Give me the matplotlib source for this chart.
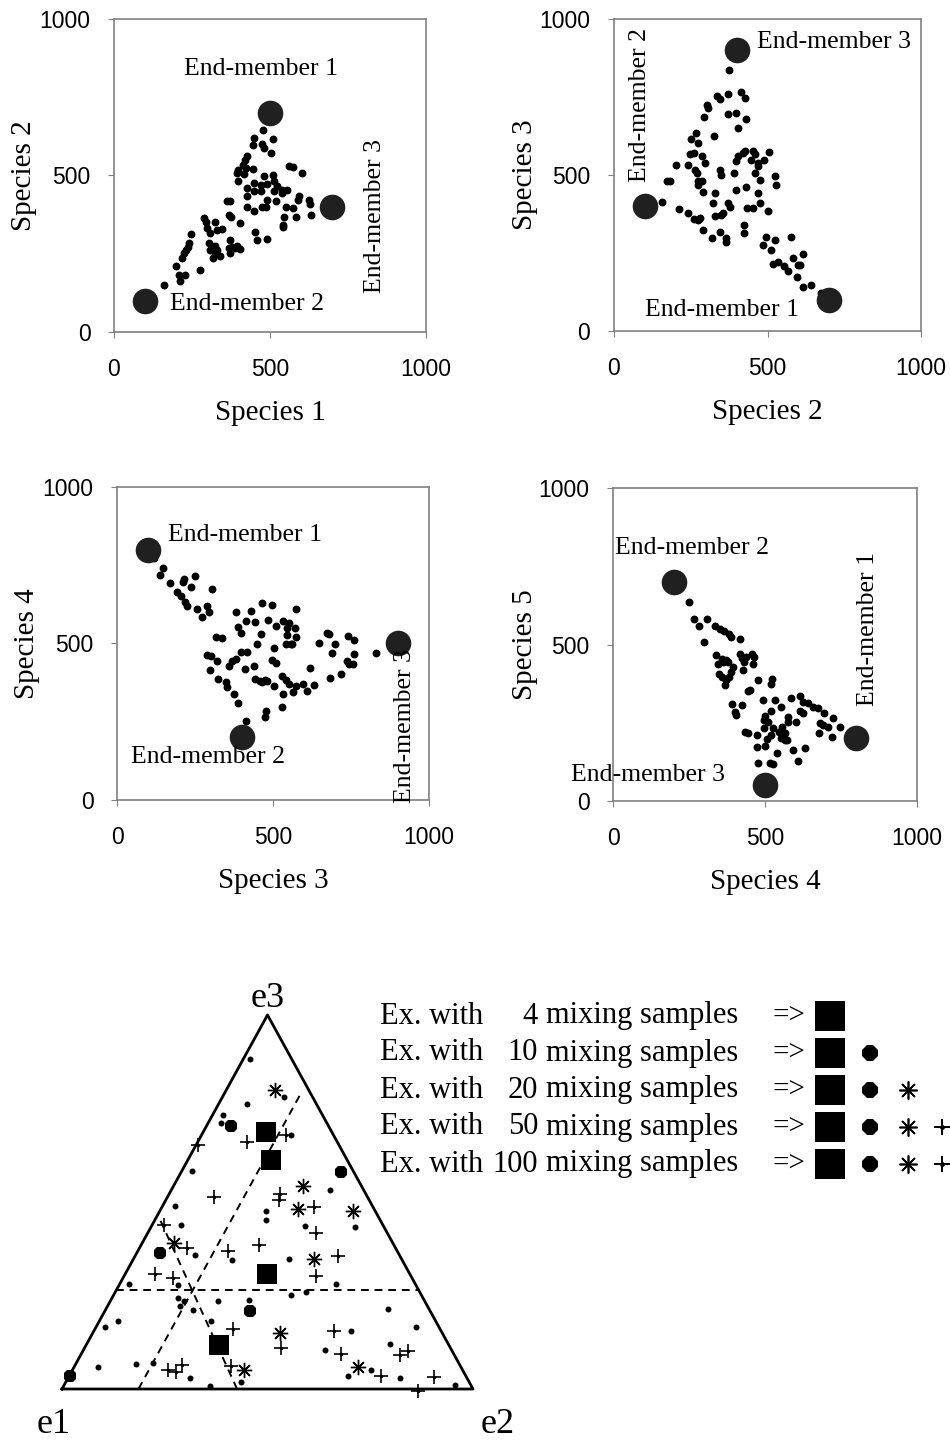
import matplotlib
matplotlib.use("Agg")
import matplotlib.pyplot as plt
import numpy as np

SERIF = "Liberation Serif"
SANS = "Liberation Sans"

# ---- panel 1: species 1 vs species 2 ----
p1_x = [477, 448, 511, 444, 473, 480, 504, 426, 420, 413, 398, 423, 445, 394, 418, 398, 482, 510,
        561, 575, 604, 448, 470, 491, 512, 523, 539, 555, 427, 448, 470, 512, 518, 539, 491, 427,
        593, 591, 625, 628, 425, 448, 475, 488, 550, 575, 545, 582, 630, 362, 373, 368, 375, 405,
        542, 542, 287, 296, 325, 298, 330, 346, 309, 453, 459, 491, 247, 242, 236, 232, 223, 218,
        199, 209, 228, 277, 212, 159, 303, 314, 325, 307, 319, 330, 317, 341, 371, 378, 389, 405,
        368, 373, 394, 325]
p1_y = [644, 621, 616, 596, 601, 587, 573, 563, 550, 534, 518, 523, 520, 508, 505, 481, 499, 500,
        529, 526, 508, 476, 470, 472, 481, 465, 454, 454, 460, 449, 449, 449, 417, 444, 422, 433,
        433, 422, 422, 410, 399, 388, 399, 399, 399, 396, 369, 369, 375, 420, 420, 375, 369, 348,
        343, 334, 364, 353, 350, 332, 327, 329, 316, 321, 295, 297, 313, 284, 271, 261, 252, 236,
        210, 183, 181, 197, 162, 151, 284, 271, 276, 261, 268, 263, 238, 244, 295, 273, 268, 265,
        268, 252, 276, 252]
p1_em_x = [500, 100, 700]
p1_em_y = [700, 100, 400]

# ---- panel 2: species 2 vs species 3 ----
p2_x = [375, 337, 370, 415, 345, 426, 302, 305, 294, 372, 399, 431, 404, 325, 266, 251, 275, 248,
        259, 286, 296, 202, 240, 264, 269, 275, 286, 273, 291, 172, 183, 156, 212, 240, 259, 275,
        280, 291, 318, 345, 366, 366, 329, 345, 347, 323, 329, 350, 356, 372, 377, 390, 399, 404,
        399, 420, 426, 453, 458, 447, 469, 490, 506, 469, 458, 474, 469, 474, 453, 433, 431, 523,
        528, 501, 423, 423, 496, 523, 485, 510, 576, 517, 533, 555, 566, 582, 614, 598, 607, 595,
        617, 641, 673]
p2_y = [837, 754, 761, 765, 743, 746, 724, 716, 687, 695, 698, 681, 652, 625, 635, 616, 601, 566,
        571, 560, 538, 533, 533, 517, 506, 480, 480, 469, 444, 480, 480, 415, 390, 377, 358, 356,
        361, 324, 297, 318, 297, 286, 442, 517, 501, 410, 367, 372, 377, 410, 399, 506, 453, 560,
        544, 571, 576, 578, 566, 549, 539, 549, 573, 528, 506, 485, 442, 410, 394, 394, 463, 498,
        469, 383, 340, 313, 300, 291, 275, 261, 300, 216, 222, 208, 191, 234, 248, 211, 213, 173,
        141, 148, 122]
p2_em_x = [700, 100, 400]
p2_em_y = [100, 400, 900]

# ---- panel 3: species 3 vs species 4 ----
p3_x = [120, 148, 139, 171, 214, 212, 236, 249, 193, 206, 219, 223, 257, 273, 289, 294, 303, 380,
        428, 466, 496, 412, 441, 389, 396, 485, 509, 533, 544, 551, 573, 571, 546, 575, 562, 316,
        337, 460, 450, 503, 541, 557, 287, 300, 319, 298, 323, 348, 353, 375, 389, 359, 369, 380,
        396, 415, 410, 439, 498, 511, 442, 458, 466, 473, 482, 503, 530, 541, 551, 532, 565, 573,
        597, 610, 632, 619, 530, 476, 473, 412, 648, 672, 680, 699, 688, 739, 760, 758, 737, 744,
        755, 717, 683, 830]
p3_y = [772, 740, 719, 694, 705, 695, 681, 716, 665, 652, 634, 620, 610, 585, 620, 599, 673, 601,
        604, 629, 623, 572, 569, 554, 532, 574, 556, 572, 551, 564, 610, 551, 528, 521, 498, 521,
        519, 530, 498, 487, 498, 498, 464, 461, 445, 415, 386, 376, 360, 338, 309, 429, 445, 452,
        473, 473, 418, 429, 447, 439, 388, 381, 376, 383, 381, 365, 397, 383, 370, 338, 346, 365,
        372, 349, 367, 423, 298, 283, 264, 251, 503, 535, 530, 498, 471, 524, 511, 468, 445, 436,
        436, 402, 389, 471]
p3_em_x = [100, 400, 900]
p3_em_y = [800, 200, 500]

# ---- panel 4: species 4 vs species 5 ----
p4_x = [251, 266, 284, 310, 335, 352, 365, 382, 388, 417, 300, 338, 346, 357, 363, 371, 379, 395,
        349, 357, 368, 382, 388, 371, 417, 423, 432, 439, 456, 464, 461, 428, 478, 524, 521, 445,
        450, 390, 401, 404, 423, 494, 532, 554, 521, 499, 496, 527, 497, 521, 545, 554, 565, 576,
        576, 603, 587, 614, 625, 642, 658, 675, 614, 625, 693, 722, 680, 691, 708, 746, 677, 719,
        434, 445, 472, 505, 472, 499, 538, 560, 571, 593, 631, 609, 478, 516, 525, 557, 565, 510]
p4_y = [636, 583, 559, 583, 560, 551, 544, 535, 524, 519, 509, 466, 439, 455, 445, 450, 445, 429,
        407, 397, 370, 397, 413, 386, 471, 457, 445, 461, 471, 461, 439, 418, 386, 389, 373, 352,
        356, 310, 285, 274, 306, 322, 322, 301, 287, 271, 259, 232, 232, 211, 221, 200, 195, 269,
        253, 253, 328, 335, 317, 312, 301, 296, 288, 280, 280, 266, 248, 243, 237, 235, 216, 205,
        221, 216, 211, 197, 173, 177, 154, 205, 195, 163, 168, 128, 120, 120, 117, 235, 218, 253]
p4_em_x = [800, 200, 500]
p4_em_y = [200, 700, 50]

# ---- ternary example: fractions of end-member 2 and end-member 3 ----
sq_e2 = [0.153, 0.203, 0.345, 0.323]
sq_e3 = [0.686, 0.613, 0.308, 0.117]
circ_e2 = [0.059, 0.389, 0.058, 0.354, 0.002]
circ_e3 = [0.702, 0.581, 0.363, 0.209, 0.034]
ast_e2 = [0.119, 0.316, 0.334, 0.470, 0.077, 0.440, 0.455, 0.416, 0.691]
ast_e3 = [0.800, 0.543, 0.481, 0.475, 0.390, 0.348, 0.150, 0.052, 0.059]
plus_e2 = [0.205, 0.120, 0.004, 0.113, 0.270, 0.274, 0.371, 0.410, 0.028, 0.116, 0.220, 0.287,
           0.494, 0.073, 0.121, 0.468, 0.336, 0.478, 0.586, 0.632, 0.778, 0.792, 0.231, 0.254,
           0.260, 0.380, 0.757, 0.888, 0.868]
plus_e3 = [0.679, 0.660, 0.653, 0.513, 0.522, 0.506, 0.486, 0.417, 0.439, 0.377, 0.368, 0.386,
           0.356, 0.308, 0.298, 0.301, 0.160, 0.110, 0.154, 0.094, 0.090, 0.102, 0.052, 0.045,
           0.065, 0.061, 0.036, 0.032, -0.005]
dot_e2 = [0.016, 0.148, 0.068, 0.025, 0.031, 0.217, 0.024, 0.385, 0.030, 0.259, 0.271, 0.069,
          0.374, 0.496, 0.143, 0.241, 0.378, 0.022, 0.527, 0.142, 0.161, 0.181, 0.213, 0.263,
          0.336, 0.430, 0.463, 0.686, 0.046, 0.021, 0.273, 0.625, 0.778, 0.739, 0.589, 0.058,
          0.147, 0.187, 0.298, 0.356, 0.426, 0.677, 0.727, 0.807, 0.949, 0.175]
dot_e3 = [0.882, 0.782, 0.762, 0.733, 0.711, 0.678, 0.584, 0.532, 0.488, 0.477, 0.451, 0.439,
          0.436, 0.433, 0.359, 0.346, 0.347, 0.281, 0.281, 0.279, 0.243, 0.234, 0.212, 0.234,
          0.237, 0.252, 0.259, 0.215, 0.181, 0.166, 0.181, 0.154, 0.165, 0.120, 0.103, 0.058,
          0.068, 0.069, 0.029, 0.007, 0.020, 0.036, 0.052, 0.029, 0.012, 0.222]
# dashed guide lines, start and end as (e2, e3)
guide_lines = [((0.0, 0.264), (0.736, 0.264)),
               ((0.186, 0.0), (0.186, 0.79)),
               ((0.426, 0.0), (0.0, 0.466))]

legend_counts = ["4", "10", "20", "50", "100"]


def tern(e2, e3):
    e2 = np.asarray(e2, dtype=float)
    e3 = np.asarray(e3, dtype=float)
    return e2 + e3 / 2.0, e3


fig = plt.figure(figsize=(9.5, 14.48), dpi=100)


def scatter_panel(rect, x, y, emx, emy, xlab, ylab, labels):
    ax = fig.add_axes(rect)
    ax.scatter(x, y, s=32, color="black", zorder=3, linewidths=0)
    ax.scatter(emx, emy, s=340, color="#202020", zorder=4, linewidths=0)
    ax.set_xlim(0, 1000)
    ax.set_ylim(0, 1000)
    ax.set_xticks([0, 500, 1000])
    ax.set_yticks([0, 500, 1000])
    for sp in ax.spines.values():
        sp.set_color("#808080")
        sp.set_linewidth(1.2)
    ax.tick_params(direction="out", length=4, color="#808080", labelsize=16.5)
    ax.tick_params(axis="x", pad=15)
    ax.tick_params(axis="y", pad=13)
    for t in ax.get_xticklabels() + ax.get_yticklabels():
        t.set_fontfamily(SANS)
    ax.text(0.5, -0.259, xlab, transform=ax.transAxes, ha="center", va="center",
            fontsize=21, family=SERIF)
    ax.text(-0.29, 0.5, ylab, transform=ax.transAxes, ha="center", va="center",
            rotation=90, fontsize=21, family=SERIF)
    for (tx, ty, s, ha, rot) in labels:
        ax.text(tx, ty, s, ha=ha, va="center", rotation=rot, fontsize=18.5,
                family=SERIF, clip_on=False, zorder=5)
    return ax


scatter_panel([0.12, 0.7707, 0.3284, 0.2162], p1_x, p1_y, p1_em_x, p1_em_y,
              "Species 1", "Species 2",
              [(470, 840, "End-member 1", "center", 0),
               (180, 88, "End-member 2", "left", 0),
               (835, 370, "End-member 3", "center", 90)])
scatter_panel([0.6463, 0.7714, 0.3232, 0.2155], p2_x, p2_y, p2_em_x, p2_em_y,
              "Species 2", "Species 3",
              [(352, 68, "End-member 1", "center", 0),
               (85, 725, "End-member 2", "center", 90),
               (466, 925, "End-member 3", "left", 0)])
scatter_panel([0.1232, 0.4475, 0.3284, 0.2162], p3_x, p3_y, p3_em_x, p3_em_y,
              "Species 3", "Species 4",
              [(163, 848, "End-member 1", "left", 0),
               (292, 138, "End-member 2", "center", 0),
               (923, 235, "End-member 3", "center", 90)])
scatter_panel([0.6453, 0.4468, 0.32, 0.2162], p4_x, p4_y, p4_em_x, p4_em_y,
              "Species 4", "Species 5",
              [(840, 548, "End-member 1", "center", 90),
               (261, 808, "End-member 2", "center", 0),
               (114, 84, "End-member 3", "center", 0)])

# ---- ternary diagram ----
tax = fig.add_axes([62 / 950, 1 - 1389 / 1448, 411 / 950, 374 / 1448])
tax.set_xlim(0, 1)
tax.set_ylim(0, 1)
tax.axis("off")
tx, ty = tern([0, 1, 0, 0], [0, 0, 1, 0])
tax.plot(tx, ty, color="black", lw=2.0, clip_on=False, zorder=2)
for (a, b) in guide_lines:
    gx, gy = tern([a[0], b[0]], [a[1], b[1]])
    tax.plot(gx, gy, color="black", lw=1.4, ls=(0, (4, 3)), clip_on=False, zorder=1)

x, y = tern(dot_e2, dot_e3)
tax.plot(x, y, "o", ms=4.3, color="black", mew=0, clip_on=False, zorder=3)
x, y = tern(plus_e2, plus_e3)
tax.plot(x, y, "+", ms=10, color="black", mew=1.2, clip_on=False, zorder=3)
tax.plot(x, y, "o", ms=2.5, color="black", mew=0, clip_on=False, zorder=3)
x, y = tern(ast_e2, ast_e3)
tax.plot(x, y, marker=(8, 2, 0), ls="none", ms=11, color="black", mew=1.0, clip_on=False, zorder=3)
x, y = tern(circ_e2, circ_e3)
tax.plot(x, y, "8", ms=10, color="black", mew=0, clip_on=False, zorder=3)
x, y = tern(sq_e2, sq_e3)
tax.plot(x, y, "s", ms=14, color="black", mew=0, clip_on=False, zorder=4)

tax.text(0.5, 1.045, "e3", transform=tax.transAxes, ha="center", va="center", fontsize=26, family=SERIF)
tax.text(-0.02, -0.095, "e1", transform=tax.transAxes, ha="center", va="center", fontsize=26, family=SERIF)
tax.text(1.06, -0.095, "e2", transform=tax.transAxes, ha="center", va="center", fontsize=26, family=SERIF)

# ---- legend ----
row_y = [1016, 1053, 1090, 1127, 1164]
for i, (n, py) in enumerate(zip(legend_counts, row_y)):
    fy = 1 - py / 1448
    fig.text(380 / 950, fy, "Ex. with", ha="left", va="center", fontsize=22, family=SERIF)
    fig.text(538 / 950, fy, n, ha="right", va="center", fontsize=22, family=SERIF)
    fig.text(546 / 950, fy, "mixing samples", ha="left", va="center", fontsize=22, family=SERIF)
    fig.text(772 / 950, fy, "=>", ha="left", va="center", fontsize=21, family=SERIF)
    fig.lines.append(plt.Line2D([830 / 950], [fy], marker="s", ms=21, color="black", mew=0,
                                transform=fig.transFigure))
    if i >= 1:
        fig.lines.append(plt.Line2D([870 / 950], [fy], marker="8", ms=12, color="black", mew=0,
                                    transform=fig.transFigure))
    if i >= 2:
        fig.lines.append(plt.Line2D([908 / 950], [fy], marker=(8, 2, 0), ms=13, color="black",
                                    mew=1.2, transform=fig.transFigure))
    if i >= 3:
        fig.lines.append(plt.Line2D([942 / 950], [fy], marker="+", ms=12, color="black",
                                    mew=1.4, transform=fig.transFigure))
        fig.lines.append(plt.Line2D([942 / 950], [fy], marker="o", ms=3.5, color="black",
                                    mew=0, transform=fig.transFigure))

fig.savefig("out.png", dpi=100)
